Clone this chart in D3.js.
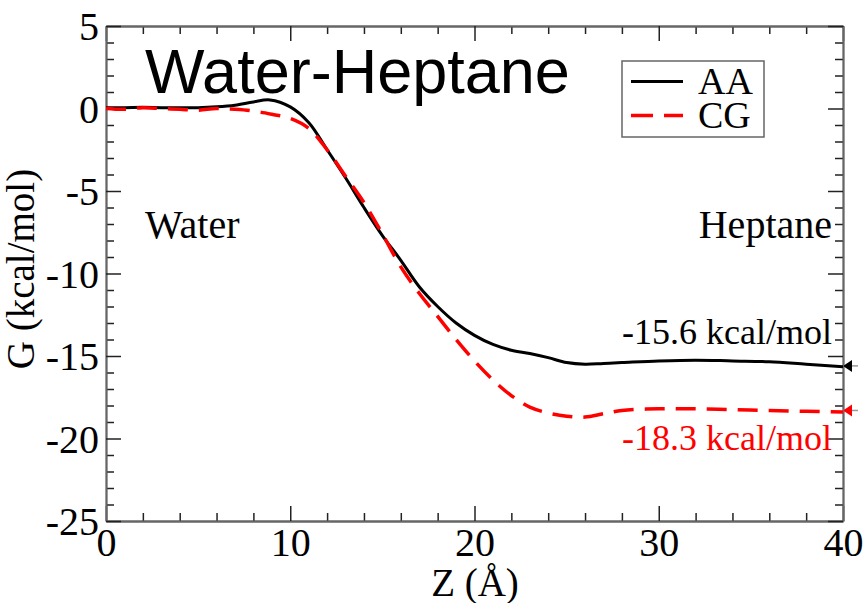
<!DOCTYPE html>
<html>
<head>
<meta charset="utf-8">
<script src="https://cdn.jsdelivr.net/npm/d3@7"></script>
<style>
  html, body { margin: 0; padding: 0; background: #fff; }
  svg { display: block; }
</style>
</head>
<body>
<svg id="chart" width="868" height="603"></svg>
<script>
// ---- data ----
const zAA = [0,1,2,3,4,5,6,7,8,8.9,10,11,12,13,14,15,16,17,18,19,20,21,22,23,24,25,26,27,28,30,32,34,36,38,40];
const gAA = [0.05,0.05,0.07,0.05,0.05,0.05,0.1,0.2,0.4,0.52,0.1,-0.85,-2.5,-4.2,-6.0,-7.7,-9.2,-10.8,-12.0,-13.0,-13.75,-14.3,-14.65,-14.85,-15.1,-15.4,-15.5,-15.45,-15.4,-15.3,-15.25,-15.3,-15.35,-15.5,-15.65];
const zCG = [0,1,2,3,4,5,6,7,8,9,10,11,12,13,14,15,16,17,18,19,20,21,22,23,24,25,26,27,28,30,32,34,36,38,40];
const gCG = [0,-0.05,0.05,0,-0.05,-0.1,0,-0.05,-0.15,-0.35,-0.6,-1.2,-2.5,-4.1,-5.7,-7.6,-9.6,-11.2,-12.6,-14.0,-15.3,-16.45,-17.4,-18.1,-18.45,-18.65,-18.7,-18.5,-18.3,-18.2,-18.2,-18.25,-18.3,-18.35,-18.4];
const seriesNames = ["AA", "CG"];
const endValues = [-15.6, -18.3];
const endLabels = ["-15.6 kcal/mol", "-18.3 kcal/mol"];
const xMajorTicks = [0,10,20,30,40];
const xMinorTicks = [2,4,6,8,12,14,16,18,22,24,26,28,32,34,36,38];
const yMajorTicks = [5,0,-5,-10,-15,-20,-25];
const yMinorTicks = d3.range(-25, 6, 1).filter(v => v % 5 !== 0);
const titleText = "Water-Heptane";
const xLabel = "Z (Å)";
const yLabel = "G (kcal/mol)";

// ---- layout ----
const svg = d3.select("#chart");
const L = 106, R = 843, T = 26, B = 521;
const x = d3.scaleLinear().domain([0, 40]).range([L, R]);
const y = d3.scaleLinear().domain([-25, 5]).range([B, T]);
const serif = "'Liberation Serif','Times New Roman',Times,serif";
const sans = "'Liberation Sans',Arial,Helvetica,sans-serif";
const axisColor = "#666";

function styleAxis(g, labels) {
  g.select(".domain").attr("stroke", axisColor).attr("stroke-width", 1.8);
  g.selectAll(".tick line").attr("stroke", "#222").attr("stroke-width", 1.5);
  g.selectAll(".tick text").attr("font-family", serif).attr("font-size", 40).attr("fill", "#000");
  if (!labels) g.selectAll(".tick text").remove();
}

// minor ticks
svg.append("g").attr("transform", `translate(0,${B})`)
  .call(d3.axisBottom(x).tickValues(xMinorTicks).tickSize(-8).tickSizeOuter(0).tickFormat(""))
  .call(g => styleAxis(g, false));
svg.append("g").attr("transform", `translate(0,${T})`)
  .call(d3.axisTop(x).tickValues(xMinorTicks).tickSize(-8).tickSizeOuter(0).tickFormat(""))
  .call(g => styleAxis(g, false));
svg.append("g").attr("transform", `translate(${L},0)`)
  .call(d3.axisLeft(y).tickValues(yMinorTicks).tickSize(-8).tickSizeOuter(0).tickFormat(""))
  .call(g => styleAxis(g, false));
svg.append("g").attr("transform", `translate(${R},0)`)
  .call(d3.axisRight(y).tickValues(yMinorTicks).tickSize(-8).tickSizeOuter(0).tickFormat(""))
  .call(g => styleAxis(g, false));

// major ticks
svg.append("g").attr("transform", `translate(0,${B})`)
  .call(d3.axisBottom(x).tickValues(xMajorTicks).tickSize(-15).tickSizeOuter(0).tickPadding(7).tickFormat(d3.format("d")))
  .call(g => styleAxis(g, true));
svg.append("g").attr("transform", `translate(0,${T})`)
  .call(d3.axisTop(x).tickValues(xMajorTicks).tickSize(-15).tickSizeOuter(0).tickFormat(""))
  .call(g => styleAxis(g, false));
svg.append("g").attr("transform", `translate(${L},0)`)
  .call(d3.axisLeft(y).tickValues(yMajorTicks).tickSize(-15).tickSizeOuter(0).tickPadding(7).tickFormat(d => d3.format("d")(d).replace("−", "-")))
  .call(g => styleAxis(g, true))
  .call(g => g.selectAll(".tick text").attr("dy", "0.34em"));
svg.append("g").attr("transform", `translate(${R},0)`)
  .call(d3.axisRight(y).tickValues(yMajorTicks).tickSize(-15).tickSizeOuter(0).tickFormat(""))
  .call(g => styleAxis(g, false));

// ---- lines ----
const line = d3.line().x(d => x(d[0])).y(d => y(d[1])).curve(d3.curveCatmullRom.alpha(0.5));
const dataAA = zAA.map((z, i) => [z, gAA[i]]);
const dataCG = zCG.map((z, i) => [z, gCG[i]]);

svg.append("path").datum(dataAA).attr("d", line)
  .attr("fill", "none").attr("stroke", "#000").attr("stroke-width", 3).attr("stroke-linejoin", "round");
svg.append("path").datum(dataCG).attr("d", line)
  .attr("fill", "none").attr("stroke", "#ff0000").attr("stroke-width", 3.5).attr("stroke-dasharray", "20,11");

// end markers
const colors = ["#000", "#ff0000"];
endValues.forEach((v, i) => {
  const yy = y(v);
  svg.append("line").attr("x1", R).attr("x2", R + 15).attr("y1", yy).attr("y2", yy)
    .attr("stroke", "#999").attr("stroke-width", 1.5);
  svg.append("path")
    .attr("d", `M${R},${yy} L${R + 9},${yy - 6} L${R + 9},${yy + 6} Z`)
    .attr("fill", colors[i]);
});

// end labels
svg.append("text").attr("x", 832).attr("y", 344).attr("text-anchor", "end")
  .attr("font-family", serif).attr("font-size", 36).attr("fill", "#000").text(endLabels[0]);
svg.append("text").attr("x", 832).attr("y", 450).attr("text-anchor", "end")
  .attr("font-family", serif).attr("font-size", 36).attr("fill", "#ff0000").text(endLabels[1]);

// region labels
svg.append("text").attr("x", 145).attr("y", 238)
  .attr("font-family", serif).attr("font-size", 40).text("Water");
svg.append("text").attr("x", 832).attr("y", 238).attr("text-anchor", "end")
  .attr("font-family", serif).attr("font-size", 40).text("Heptane");

// title
svg.append("text").attr("x", 145).attr("y", 93)
  .attr("font-family", sans).attr("font-size", 63).attr("fill", "#000").text(titleText);

// legend
svg.append("rect").attr("x", 622).attr("y", 61).attr("width", 142).attr("height", 76)
  .attr("fill", "#fff").attr("stroke", axisColor).attr("stroke-width", 1.5);
svg.append("line").attr("x1", 631).attr("x2", 683).attr("y1", 81.5).attr("y2", 81.5)
  .attr("stroke", "#000").attr("stroke-width", 3);
svg.append("line").attr("x1", 631).attr("x2", 683).attr("y1", 115.5).attr("y2", 115.5)
  .attr("stroke", "#ff0000").attr("stroke-width", 3.5).attr("stroke-dasharray", "22,11");
svg.append("text").attr("x", 698).attr("y", 94)
  .attr("font-family", serif).attr("font-size", 38).text(seriesNames[0]);
svg.append("text").attr("x", 698).attr("y", 128)
  .attr("font-family", serif).attr("font-size", 38).text(seriesNames[1]);

// axis labels
svg.append("text").attr("x", 475).attr("y", 596).attr("text-anchor", "middle")
  .attr("font-family", serif).attr("font-size", 39).text(xLabel);
svg.append("text").attr("transform", "translate(34,269) rotate(-90)").attr("text-anchor", "middle")
  .attr("font-family", serif).attr("font-size", 39).text(yLabel);
</script>
</body>
</html>
